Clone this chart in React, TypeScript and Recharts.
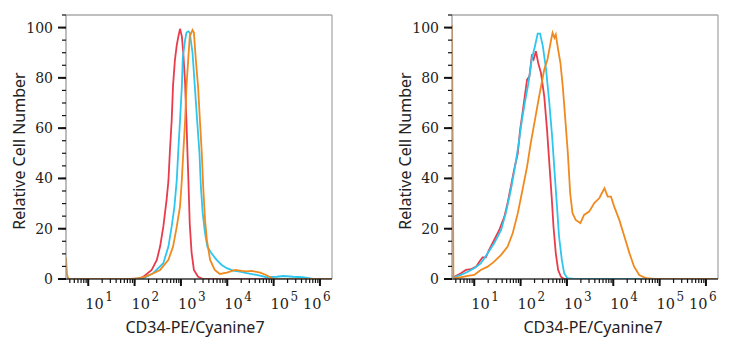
import React from 'react';
import { LineChart, Line, XAxis, YAxis, ReferenceLine } from 'recharts';

// x = fluorescence intensity, y = relative cell number
const leftRed: [number, number][] = [
  [3.31, 0], [112, 0], [155, 0.9], [234, 3.6], [302, 7.6], [355, 12.9], [417, 20.8], [490, 31.5],
  [537, 39], [575, 50], [631, 63], [676, 77], [741, 87], [813, 93], [871, 96], [955, 99.5],
  [1047, 96.5], [1122, 90], [1230, 78], [1318, 62], [1445, 40], [1549, 22], [1698, 10.5],
  [1905, 3.6], [2344, 0.9], [3020, 0], [1820000, 0],
];
const leftCyan: [number, number][] = [
  [3.31, 0], [91, 0], [155, 0.3], [251, 2.3], [417, 6.3], [537, 12.9], [631, 20.8], [724, 28.8],
  [813, 39.4], [871, 50], [955, 63], [1047, 76.6], [1096, 88], [1230, 95], [1318, 98], [1445, 98.5],
  [1549, 98], [1778, 90], [1995, 76.6], [2239, 63], [2512, 50], [2692, 36.8], [2951, 26.2],
  [3311, 18.2], [3715, 12.9], [4571, 10.2], [5888, 7.6], [7586, 5.6], [9772, 4.3], [13490, 3.3],
  [18621, 2.9], [26303, 2.3], [42658, 1.6], [70795, 0.7], [117490, 0.9], [162181, 1.2],
  [263027, 0.9], [426580, 0.7], [707946, 0], [1820000, 0],
];
const leftOrange: [number, number][] = [
  [3.31, 8.5], [3.47, 2], [3.7, 0], [79.4, 0], [132, 0.3], [214, 1.6], [355, 3.6], [537, 7.6],
  [676, 12.9], [813, 20.8], [955, 28.8], [1047, 39.4], [1122, 50], [1230, 63], [1318, 76.6],
  [1445, 88], [1549, 96.5], [1778, 99], [1905, 98], [2042, 90], [2188, 83], [2344, 76.6],
  [2570, 63], [2818, 50], [3020, 36.8], [3311, 23.5], [3631, 15.5], [4266, 7.6], [5370, 3.6],
  [6918, 2], [9772, 2.5], [14791, 3.6], [20417, 3.2], [26303, 3], [33884, 3.2], [51286, 2.5],
  [70795, 1.5], [97724, 0], [1820000, 0],
];

const rightRed: [number, number][] = [
  [3.31, 0.5], [3.7, 0.9], [5.16, 2.3], [6.61, 3.6], [8.51, 3.9], [10.96, 4.9], [12.9, 6.9],
  [15.1, 8.6], [17.8, 8.6], [20.9, 11.6], [26.9, 15.5], [34.7, 19.5], [44.7, 24.8], [52.5, 30.2],
  [61.7, 36.8], [72.4, 43.4], [87.1, 50], [97.7, 59.4], [110, 66], [123, 72.6], [138, 79.3],
  [155, 80.6], [174, 88.6], [191, 87.3], [214, 90.6], [240, 85.9], [275, 82], [324, 72.6],
  [372, 59.4], [417, 46.1], [468, 32.8], [513, 20.8], [575, 10.2], [646, 3.6], [741, 0.9],
  [871, 0], [1820000, 0],
];
const rightCyan: [number, number][] = [
  [3.31, 0.5], [3.7, 0.7], [5.16, 1.6], [7.24, 2.9], [10, 4.3], [13.8, 6.2], [19.5, 10.2],
  [26.9, 14.2], [38, 19.5], [47.9, 26.2], [61.7, 35.5], [75.9, 44.7], [91.2, 54.1], [107, 63.3],
  [123, 70], [148, 78], [174, 87.3], [204, 92.6], [234, 97.6], [263, 97.6], [302, 92.6],
  [355, 83.3], [417, 70], [479, 56.7], [537, 43.4], [603, 30.2], [676, 16.9], [776, 7.6],
  [871, 2.3], [1023, 0.3], [1445, 0], [1820000, 0],
];
const rightOrange: [number, number][] = [
  [3.31, 101], [3.55, 0.5], [3.7, 0.3], [5.16, 0.7], [7.24, 1.2], [10, 1.6], [13.8, 3.6],
  [19.5, 4.9], [26.9, 6.9], [38, 9.6], [52.5, 12.9], [67.6, 18.2], [87.1, 26.2], [110, 35.5],
  [138, 44.7], [166, 54.1], [204, 63.3], [251, 72.6], [324, 83.3], [380, 87.3], [457, 95.2],
  [490, 97.9], [537, 95.9], [575, 97.2], [646, 91.2], [724, 85.9], [813, 76.6], [912, 64.7],
  [1047, 50], [1175, 34.1], [1318, 26.2], [1549, 23.5], [1950, 22.2], [2344, 25.5], [3020, 26.8],
  [3890, 30.2], [5012, 32.2], [6457, 36.1], [7586, 32.8], [8913, 32.8], [10471, 28.8],
  [13490, 23.5], [17378, 16.9], [22387, 10.2], [28184, 4.9], [36308, 1.6], [51286, 0.3],
  [77625, 0], [1820000, 0],
];

const xDomain: [number, number] = [3.31, 1820000];
const yDomain: [number, number] = [0, 105];
const xTicks: number[] = [
  4, 5, 6, 7, 8, 9, 10, 20, 30, 40, 50, 60, 70, 80, 90, 100, 200, 300, 400, 500, 600, 700, 800, 900,
  1000, 2000, 3000, 4000, 5000, 6000, 7000, 8000, 9000, 10000, 20000, 30000, 40000, 50000, 60000,
  70000, 80000, 90000, 100000, 200000, 300000, 400000, 500000, 600000, 700000, 800000, 900000, 1000000,
];
const yTicks: number[] = [0, 5, 10, 15, 20, 25, 30, 35, 40, 45, 50, 55, 60, 65, 70, 75, 80, 85, 90, 95, 100, 105];
const yLabels: number[] = [0, 20, 40, 60, 80, 100];
const xTitle = 'CD34-PE/Cyanine7';
const yTitle = 'Relative Cell Number';

const RED = '#e83c4c';
const CYAN = '#2ec6ee';
const ORANGE = '#f08a1e';

const toRows = (arr: [number, number][]) => arr.map(([x, y]) => ({ x, y }));

// built-in tick lines are 4px long (minor); majors get an extra segment here
const XTick = (props: any) => {
  const { x, y, payload } = props;
  const v = payload.value as number;
  const lg = Math.log10(v);
  const e = Math.round(lg);
  const major = Math.abs(lg - e) < 1e-6;
  if (!major) return <g />;
  return (
    <g>
      <line x1={x} x2={x} y1={y - 4} y2={y + 3} stroke="#111" strokeWidth={2} />
      <text x={x + (e === 6 ? -17 : -3)} y={y + 26} fontFamily="DejaVu Serif" fontSize={14.5} fill="#222">
        10
        <tspan dx={1.5} dy={-8} fontSize={12}>{e}</tspan>
      </text>
    </g>
  );
};

const YTick = (props: any) => {
  const { x, y, payload } = props;
  const v = payload.value as number;
  if (!yLabels.includes(v)) return <g />;
  return (
    <g>
      <line x1={x - 4} x2={x + 4} y1={y} y2={y} stroke="#111" strokeWidth={2} />
      <text x={x - 9} y={y} dy="0.36em" textAnchor="end" fontFamily="DejaVu Serif" fontSize={14} fill="#222">
        {v}
      </text>
    </g>
  );
};

const Panel = ({ red, cyan, orange }: { red: [number, number][]; cyan: [number, number][]; orange: [number, number][] }) => (
  <LineChart width={366} height={350} margin={{ top: 15, right: 34, bottom: 41, left: 16 }}>
    <XAxis
      dataKey="x"
      type="number"
      scale="log"
      domain={xDomain}
      ticks={xTicks}
      interval={0}
      allowDataOverflow
      tickSize={4}
      tickMargin={0}
      tickLine={{ stroke: '#111', strokeWidth: 1.2 }}
      tick={<XTick />}
      height={30}
      axisLine={{ stroke: '#333', strokeWidth: 1.3 }}
    />
    <YAxis
      dataKey="y"
      type="number"
      domain={yDomain}
      ticks={yTicks}
      interval={0}
      allowDataOverflow
      tickSize={4}
      tickMargin={0}
      tickLine={{ stroke: '#111', strokeWidth: 1.2 }}
      tick={<YTick />}
      width={50}
      axisLine={{ stroke: '#999', strokeWidth: 1.3 }}
    />
    <ReferenceLine y={105} stroke="#aaa" strokeWidth={1.3} ifOverflow="visible" />
    <ReferenceLine x={1820000} stroke="#aaa" strokeWidth={1.3} ifOverflow="visible" />
    <Line data={toRows(red)} dataKey="y" type="linear" stroke={RED} strokeWidth={1.8} dot={false} isAnimationActive={false} />
    <Line data={toRows(cyan)} dataKey="y" type="linear" stroke={CYAN} strokeWidth={1.8} dot={false} isAnimationActive={false} />
    <Line data={toRows(orange)} dataKey="y" type="linear" stroke={ORANGE} strokeWidth={1.8} dot={false} isAnimationActive={false} />
  </LineChart>
);

const titleStyle: React.CSSProperties = {
  position: 'absolute',
  fontFamily: '"Noto Sans", sans-serif',
  fontSize: 16,
  color: '#222',
  whiteSpace: 'nowrap',
  lineHeight: '20px',
};

export default function App() {
  return (
    <div style={{ position: 'absolute', left: 0, top: 0, width: 733, height: 350, background: '#fff', overflow: 'hidden' }}>
      <div style={{ position: 'absolute', left: 0, top: 0 }}>
        <Panel red={leftRed} cyan={leftCyan} orange={leftOrange} />
      </div>
      <div style={{ position: 'absolute', left: 386, top: 0 }}>
        <Panel red={rightRed} cyan={rightCyan} orange={rightOrange} />
      </div>
      <div style={{ ...titleStyle, left: 195, top: 327, transform: 'translate(-50%, -50%)' }}>{xTitle}</div>
      <div style={{ ...titleStyle, left: 593, top: 327, transform: 'translate(-50%, -50%)' }}>{xTitle}</div>
      <div style={{ ...titleStyle, left: 19, top: 151, transform: 'translate(-50%, -50%) rotate(-90deg)' }}>{yTitle}</div>
      <div style={{ ...titleStyle, left: 405, top: 151, transform: 'translate(-50%, -50%) rotate(-90deg)' }}>{yTitle}</div>
    </div>
  );
}
